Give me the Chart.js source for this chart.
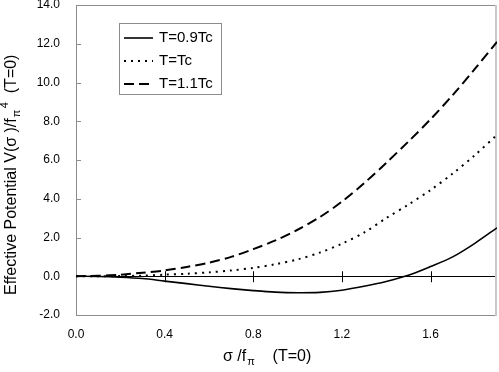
<!DOCTYPE html>
<html lang="en">
  <head>
    <meta charset="UTF-8" />
    <title>Effective Potential</title>
    <script src="https://cdn.jsdelivr.net/npm/chart.js"></script>
    <style>
      body { margin: 0; background: #fff; }
      #wrap { width: 499px; height: 372px; }
    </style>
  </head>
  <body>
    <div id="wrap"><canvas id="potential"></canvas></div>
    <script>
      // sigma / f_pi (T=0)
      const sigma = [0, 0.1, 0.2, 0.3, 0.4, 0.5, 0.6, 0.7, 0.8, 0.9, 1.0,
                     1.1, 1.2, 1.3, 1.4, 1.5, 1.6, 1.7, 1.8, 1.9];
      // V(sigma)/f_pi^4
      const v09Tc = [0, -0.01, -0.05, -0.12, -0.25, -0.38, -0.52, -0.64, -0.74, -0.82, -0.85,
                     -0.83, -0.72, -0.52, -0.27, 0.05, 0.5, 1.0, 1.7, 2.5];
      const vTc = [0, 0.0, 0.01, 0.03, 0.08, 0.13, 0.2, 0.3, 0.43, 0.62, 0.87,
                   1.22, 1.68, 2.25, 3.0, 3.7, 4.45, 5.3, 6.25, 7.3];
      const v11Tc = [0, 0.02, 0.08, 0.18, 0.3, 0.48, 0.7, 1.0, 1.4, 1.85, 2.4,
                     3.05, 3.85, 4.8, 5.85, 6.95, 8.1, 9.35, 10.7, 12.1];
      const seriesLabels = ["T=0.9Tc", "T=Tc", "T=1.1Tc"];
      const xTickStep = 0.4;
      const yTickStep = 2;

      const FONT = "'Liberation Sans', Arial, sans-serif";
      const toPoints = (ys) => sigma.map((x, i) => ({ x: x, y: ys[i] }));

      // draw a run of text pieces from x going right; pieces can carry a sub / sup pair
      function drawRich(ctx, parts, x, cy, size) {
        ctx.textBaseline = "middle";
        ctx.textAlign = "left";
        ctx.fillStyle = "#000";
        parts.forEach((p) => {
          if (p.t) {
            ctx.font = size + "px " + FONT;
            ctx.fillText(p.t, x, cy);
            x += ctx.measureText(p.t).width;
          } else {
            ctx.font = "11px " + FONT;
            let w = 0;
            if (p.sub) {
              ctx.fillText(p.sub, x + 1, cy + 5);
              w = Math.max(w, ctx.measureText(p.sub).width + 1);
            }
            if (p.sup) {
              ctx.fillText(p.sup, x + 10, cy - 7);
              w = Math.max(w, ctx.measureText(p.sup).width + 10);
            }
            x += w;
          }
        });
      }

      const decorations = {
        id: "decorations",
        beforeDatasetsDraw(chart) {
          const { ctx, chartArea: a, scales } = chart;
          const y0 = scales.y.getPixelForValue(0);
          ctx.save();
          // frame
          ctx.lineWidth = 1;
          ctx.strokeStyle = "#8c8c8c";
          ctx.beginPath();
          ctx.moveTo(a.right, a.top + 0.5);
          ctx.lineTo(a.left + 0.5, a.top + 0.5);
          ctx.lineTo(a.left + 0.5, a.bottom + 0.5);
          ctx.lineTo(a.right, a.bottom + 0.5);
          ctx.stroke();
          ctx.strokeStyle = "#c8c8c8";
          ctx.lineWidth = 2;
          ctx.beginPath();
          ctx.moveTo(a.right - 1, a.top);
          ctx.lineTo(a.right - 1, a.bottom + 1);
          ctx.stroke();
          // inner ticks on the left axis
          ctx.strokeStyle = "#8c8c8c";
          ctx.lineWidth = 1;
          scales.y.ticks.forEach((t) => {
            const py = Math.round(scales.y.getPixelForValue(t.value)) + 0.5;
            ctx.beginPath();
            ctx.moveTo(a.left, py);
            ctx.lineTo(a.left + 5, py);
            ctx.stroke();
          });
          // zero line with tick marks
          ctx.strokeStyle = "#000";
          ctx.beginPath();
          ctx.moveTo(a.left, Math.round(y0) + 0.5);
          ctx.lineTo(a.right - 2, Math.round(y0) + 0.5);
          ctx.stroke();
          scales.x.ticks.forEach((t) => {
            if (t.value === 0) return;
            const px = Math.round(scales.x.getPixelForValue(t.value)) + 0.5;
            ctx.beginPath();
            ctx.moveTo(px, y0 - 5);
            ctx.lineTo(px, y0 + 6);
            ctx.stroke();
          });
          ctx.restore();
        },
        afterDraw(chart) {
          const { ctx } = chart;
          ctx.save();
          // legend box
          const bx = 119, by = 23, bw = 102, bh = 71;
          ctx.fillStyle = "#fff";
          ctx.fillRect(bx, by, bw, bh);
          ctx.strokeStyle = "#8c8c8c";
          ctx.lineWidth = 1;
          ctx.strokeRect(bx + 0.5, by + 0.5, bw, bh);
          chart.data.datasets.forEach((ds, i) => {
            const ry = 38 + i * 23;
            ctx.strokeStyle = ds.borderColor;
            ctx.lineWidth = ds.borderWidth;
            ctx.setLineDash(ds.borderDash || []);
            ctx.beginPath();
            ctx.moveTo(124, ry);
            ctx.lineTo(153, ry);
            ctx.stroke();
            ctx.setLineDash([]);
            ctx.fillStyle = "#000";
            ctx.font = "15px " + FONT;
            ctx.textBaseline = "middle";
            ctx.textAlign = "left";
            ctx.fillText(ds.label, 159, ry);
          });
          // x axis title
          drawRich(ctx, [{ t: "σ /f" }, { sub: "π" }, { t: "    (T=0)" }], 223, 357, 16);
          // y axis title, read bottom to top
          ctx.translate(12, 295);
          ctx.rotate(-Math.PI / 2);
          drawRich(ctx, [
            { t: "Effective Potential V(σ )/f" },
            { sub: "π", sup: "4" },
            { t: "  (T=0)" },
          ], 0, 0, 16);
          ctx.restore();
        },
      };

      new Chart(document.getElementById("potential"), {
        type: "scatter",
        data: {
          datasets: [
            { label: seriesLabels[0], data: toPoints(v09Tc), borderColor: "#000", borderWidth: 1.6, borderDash: [] },
            { label: seriesLabels[1], data: toPoints(vTc), borderColor: "#000", borderWidth: 2, borderDash: [2, 5] },
            { label: seriesLabels[2], data: toPoints(v11Tc), borderColor: "#000", borderWidth: 2, borderDash: [10, 5] },
          ].map((ds) => ({ ...ds, showLine: true, pointRadius: 0, tension: 0.3, fill: false })),
        },
        options: {
          responsive: true,
          maintainAspectRatio: false,
          animation: false,
          layout: { padding: { top: 5, right: 2, left: 0, bottom: 0 } },
          plugins: { legend: { display: false }, tooltip: { enabled: false } },
          scales: {
            x: {
              type: "linear",
              min: 0,
              max: 1.9,
              grid: { display: false, drawTicks: false },
              border: { display: false },
              ticks: {
                stepSize: xTickStep,
                includeBounds: false,
                maxRotation: 0,
                padding: 12,
                color: "#000",
                font: { family: FONT, size: 12 },
                callback: (v) => v.toFixed(1),
              },
              afterFit: (s) => { s.height = 57; s.paddingLeft = 0; s.paddingRight = 0; },
            },
            y: {
              min: -2,
              max: 14,
              grid: { display: false, drawTicks: false },
              border: { display: false },
              ticks: {
                stepSize: yTickStep,
                padding: 16,
                color: "#000",
                font: { family: FONT, size: 12 },
                callback: (v) => v.toFixed(1),
              },
              afterFit: (s) => { s.width = 76; s.paddingTop = 0; s.paddingBottom = 0; },
            },
          },
        },
        plugins: [decorations],
      });
    </script>
  </body>
</html>
